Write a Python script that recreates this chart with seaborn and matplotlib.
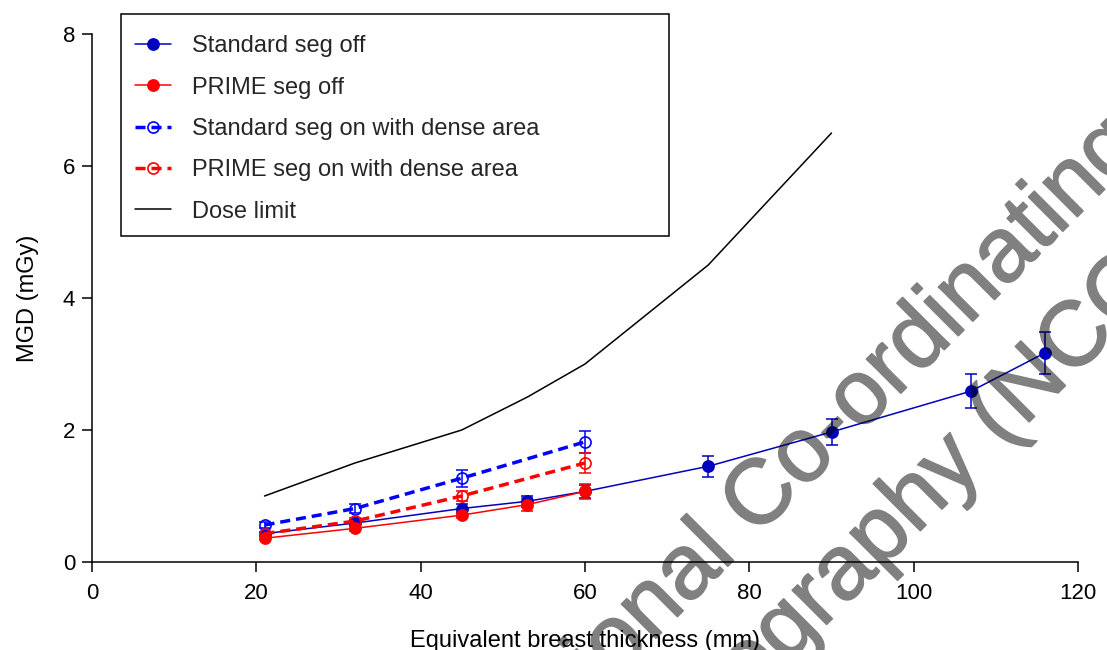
import matplotlib
matplotlib.use("Agg")
import matplotlib.pyplot as plt
import matplotlib.patheffects as pe
from matplotlib.patches import Rectangle
import seaborn as sns
import pandas as pd

# Mean glandular dose vs equivalent breast thickness
thick_all = [21, 32, 45, 53, 60, 75, 90, 107, 116]
std_off = [0.43, 0.59, 0.81, 0.92, 1.07, 1.45, 1.97, 2.59, 3.17]
std_off_err = [0.03, 0.04, 0.07, 0.08, 0.10, 0.155, 0.20, 0.255, 0.315]

thick_prime_off = [21, 32, 45, 53, 60]
prime_off = [0.36, 0.51, 0.71, 0.87, 1.07]
prime_off_err = [0.03, 0.04, 0.05, 0.10, 0.11]

thick_dense = [21, 32, 45, 60]
std_on = [0.56, 0.81, 1.27, 1.82]
std_on_err = [0.04, 0.065, 0.13, 0.17]
prime_on = [0.43, 0.62, 1.00, 1.50]
prime_on_err = [0.03, 0.05, 0.075, 0.15]

thick_limit = [21, 32, 45, 53, 60, 75, 90]
dose_limit = [1.0, 1.5, 2.0, 2.5, 3.0, 4.5, 6.5]

labels = ["Standard seg off", "PRIME seg off",
          "Standard seg on with dense area", "PRIME seg on with dense area",
          "Dose limit"]
x_ticks = [0, 20, 40, 60, 80, 100, 120]
y_ticks = [0, 2, 4, 6, 8]

sns.set_theme(style="ticks")
plt.rcParams["font.family"] = ["Liberation Sans", "DejaVu Sans"]

W, H = 1107, 650
fig = plt.figure(figsize=(W / 100, H / 100), dpi=100)
ax = fig.add_axes([92 / W, 1 - 562 / H, (1078 - 92) / W, (562 - 34) / H])

dark_blue = "#0000C0"
blue = "#0000FF"
red = "#FF0000"
dash = (0, (2.9, 1.7))

series = [
    (thick_all, std_off, std_off_err, labels[0], dark_blue, "-", 1.1, dark_blue),
    (thick_prime_off, prime_off, prime_off_err, labels[1], red, "-", 1.1, red),
    (thick_dense, std_on, std_on_err, labels[2], blue, dash, 2.5, "none"),
    (thick_dense, prime_on, prime_on_err, labels[3], red, dash, 2.5, "none"),
]

for xs, ys, errs, name, col, ls, lw, face in series:
    df = pd.DataFrame({"x": xs, "y": ys})
    ax.errorbar(xs, ys, yerr=errs, fmt="none", ecolor=col, elinewidth=1.1,
                capsize=4, capthick=1.1, zorder=2)
    sns.lineplot(data=df, x="x", y="y", ax=ax, color=col, linestyle=ls,
                 linewidth=lw, marker="o", markersize=8, markerfacecolor=face,
                 markeredgecolor=col, markeredgewidth=1.2, label=name,
                 errorbar=None, zorder=3)

df_lim = pd.DataFrame({"x": thick_limit, "y": dose_limit})
sns.lineplot(data=df_lim, x="x", y="y", ax=ax, color="black", linewidth=1.1,
             label=labels[4], errorbar=None, zorder=3)

ax.set_xlim(0, 120)
ax.set_ylim(0, 8)
ax.set_xticks(x_ticks)
ax.set_yticks(y_ticks)
ax.tick_params(axis="both", direction="out", length=7, width=1.1,
               color="black", labelcolor="black", labelsize=16)
ax.tick_params(axis="x", pad=8)
ax.tick_params(axis="y", pad=5)
for side in ("top", "right"):
    ax.spines[side].set_visible(False)
for side in ("left", "bottom"):
    ax.spines[side].set_color("black")
    ax.spines[side].set_linewidth(1.1)
ax.set_facecolor("white")
ax.grid(False)

ax.set_xlabel("Equivalent breast thickness (mm)", fontsize=17, color="black",
              labelpad=19)
ax.set_ylabel("MGD (mGy)", fontsize=17, color="black", labelpad=17)

# Legend box spans above the plotting area
handles, labs = ax.get_legend_handles_labels()
ax.get_legend().remove()
fig.add_artist(Rectangle((121 / W, 1 - 236 / H), (669 - 121) / W, (236 - 14) / H,
                         transform=fig.transFigure, facecolor="white",
                         edgecolor="black", linewidth=1.1, zorder=4.5))
fig.legend(handles, labs, loc="upper left",
           bbox_to_anchor=(121 / W, 1 - 21 / H), borderaxespad=0,
           fontsize=17, frameon=False, handlelength=1.5, handletextpad=0.9,
           labelspacing=0.82, borderpad=0.6)


def half_alpha(im, dpi):
    out = im.copy()
    out[..., 3] *= 0.5
    return out, 0, 0


# NCCPM watermark: opaque glyphs, made translucent as a whole
wm = dict(rotation=45, rotation_mode="anchor", ha="left", va="baseline",
          fontsize=66, color="black", zorder=10,
          family=["Liberation Sans", "DejaVu Sans"],
          path_effects=[pe.withStroke(linewidth=1.2, foreground="black")])
for (px, py), line in [((500, 794), "National Co-ordinating Centre"),
                       ((552, 899), "Mammography (NCCPM)")]:
    t = fig.text(px / W, 1 - py / H, line, **wm)
    t.set_agg_filter(half_alpha)

fig.savefig("out.png", dpi=100, facecolor="white")
